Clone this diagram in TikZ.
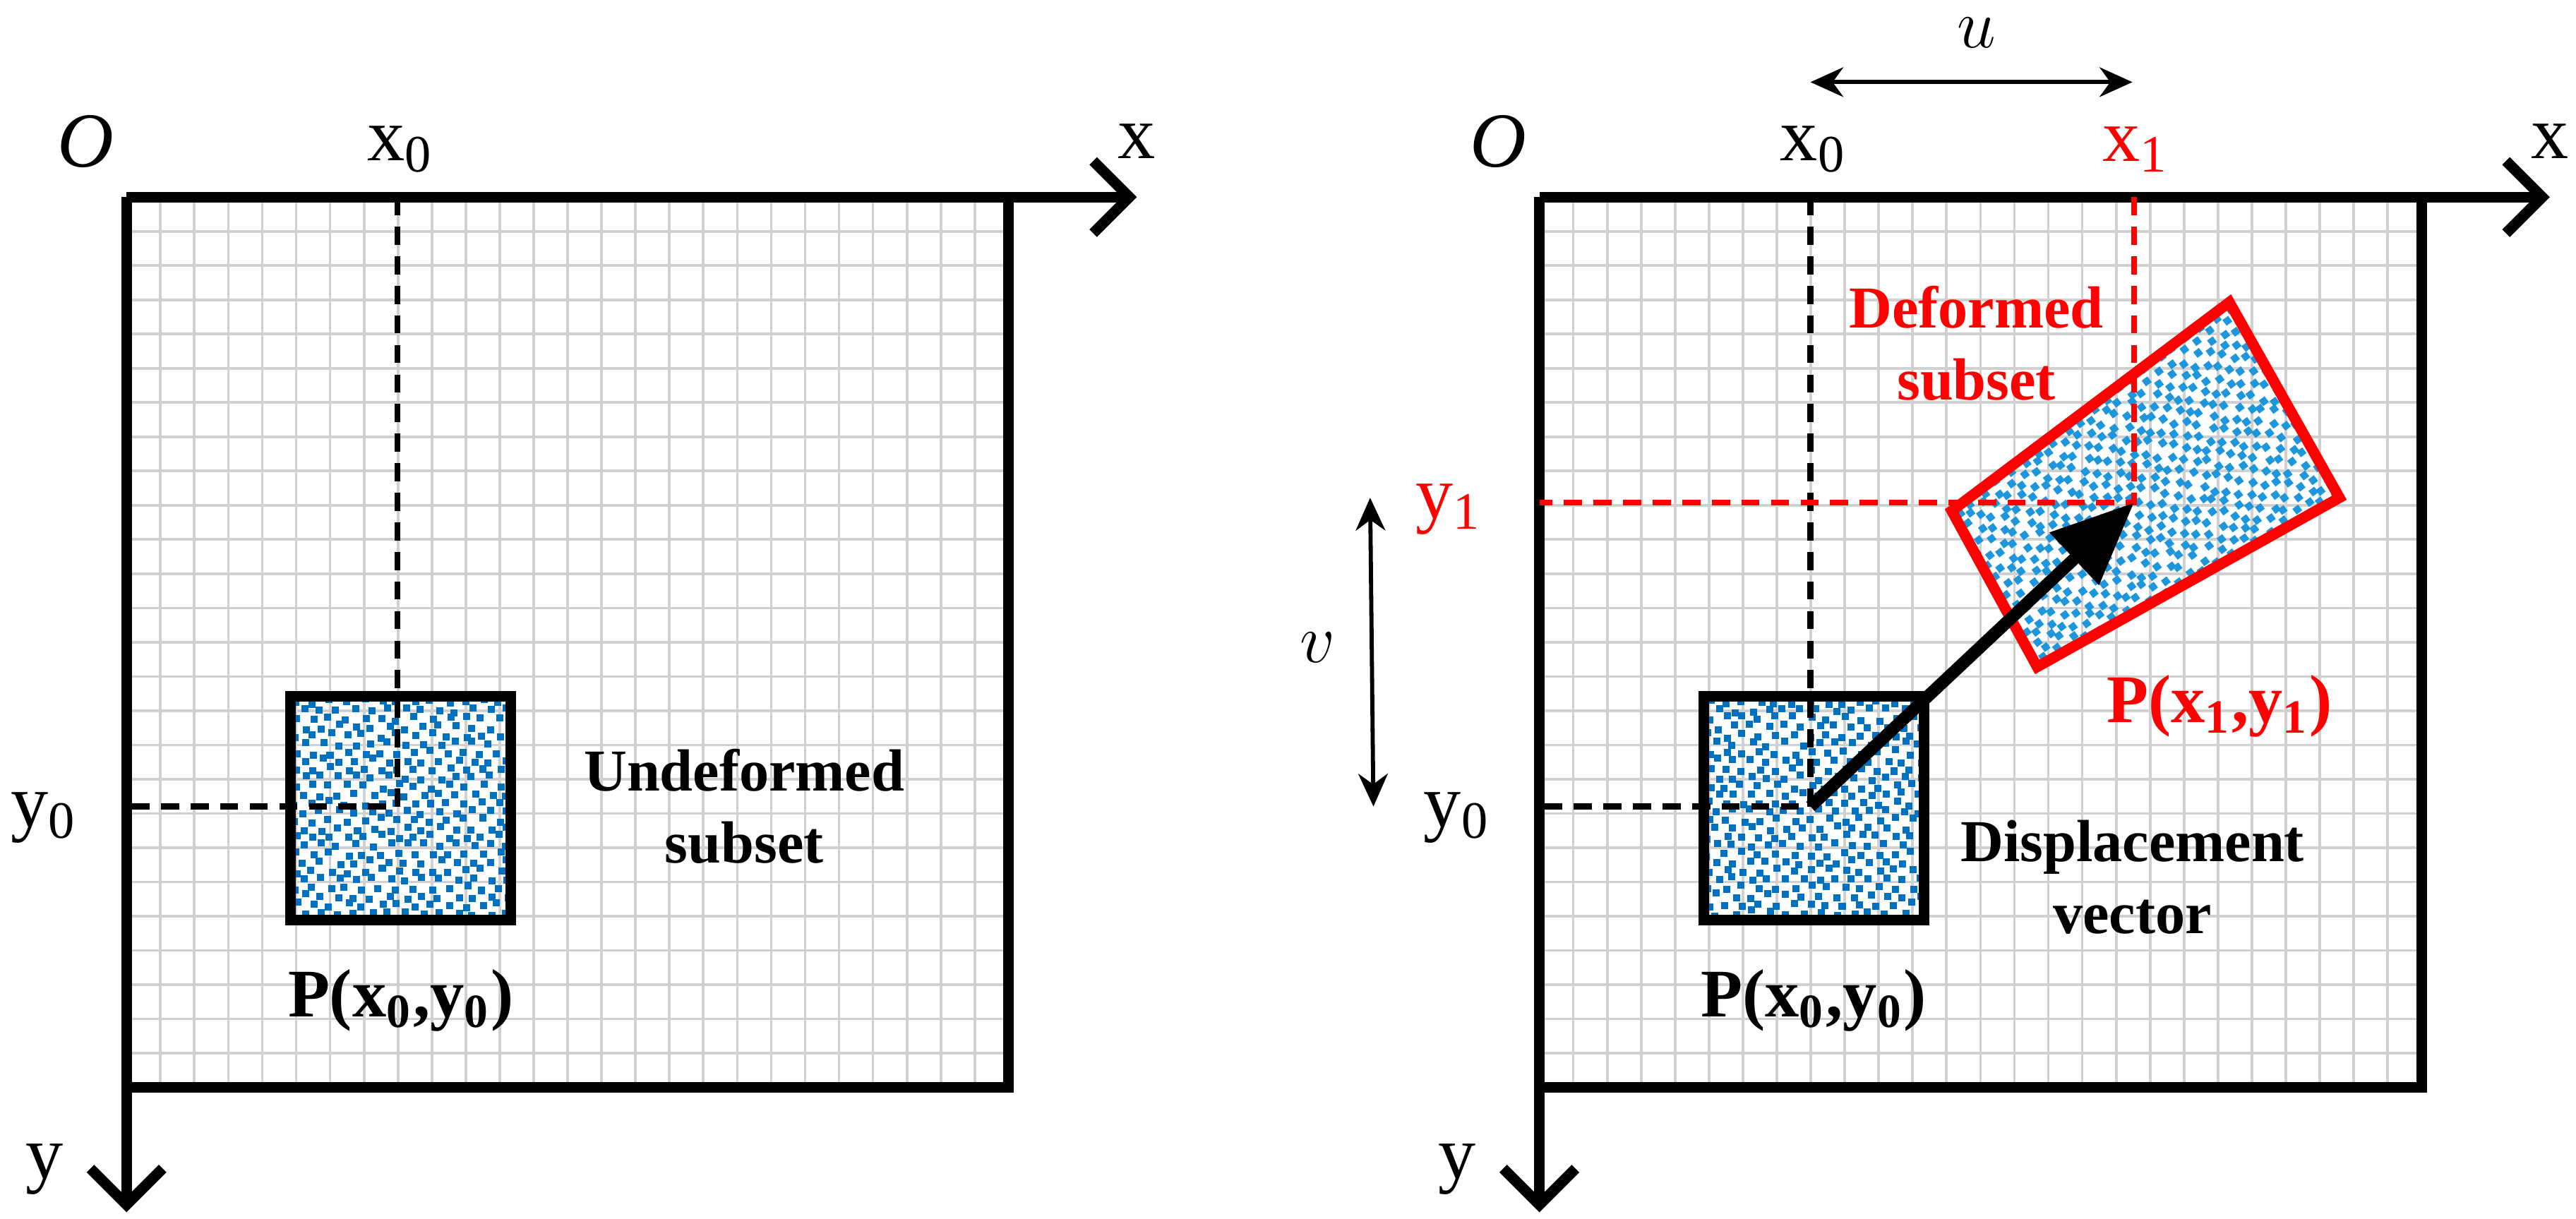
\documentclass[tikz,border=0pt]{standalone}
\usepackage{fontspec}
\setmainfont{Liberation Serif}
\usetikzlibrary{arrows.meta}
\definecolor{gridgray}{HTML}{D0D0D0}
\definecolor{dotblue}{HTML}{0070C0}
\definecolor{dotlight}{HTML}{1E96DC}
\newcommand\myspeckle[5]{%
  \foreach \i in {0,...,#3}{\foreach \j in {0,...,#4}{%
    \pgfmathsetmacro\ddx{#1+\i*10.3+1.8*rand}%
    \pgfmathsetmacro\ddy{#2+\j*10.3+1.8*rand}%
    \fill[#5] (\ddx,\ddy) rectangle ++(4.3,4.3);
    \pgfmathsetmacro\ddx{#1+\i*10.3+5.1+1.8*rand}%
    \pgfmathsetmacro\ddy{#2+\j*10.3+5.1+1.8*rand}%
    \fill[#5] (\ddx,\ddy) rectangle ++(4.3,4.3);}}}
\begin{document}
\begin{tikzpicture}[x=0.1mm,y=-0.1mm,
  lab/.style={font=\fontsize{13}{15}\selectfont, inner sep=0pt},
  blab/.style={font=\bfseries\fontsize{11.8}{14}\selectfont, inner sep=0pt},
  txt/.style={font=\bfseries\fontsize{10.3}{12.5}\selectfont, align=center, inner sep=0pt},
  frame/.style={line width=0.65mm},
  axis/.style={line width=0.65mm, -{Straight Barb[length=2.2mm,width=4.4mm,line width=0.65mm]}},
  dsh/.style={line width=0.36mm, dash pattern=on 1.1mm off 0.7mm},
  dim/.style={line width=0.25mm, {Stealth[length=2mm,width=1.8mm]}-{Stealth[length=2mm,width=1.8mm]}}]
\useasboundingbox (0,0) rectangle (1568,742);
\pgfmathsetseed{7}
% ---------- panels ----------
\foreach \s/\p in {0/L,860/R}{
\begin{scope}[xshift=\s*0.1mm]
  \begin{scope}[shift={(77,120)}]
    \draw[gridgray,line width=0.16mm,xstep=2.0654mm,ystep=2.0846mm] (0,0) grid (537,542);
  \end{scope}
  \myspeckle{178}{425}{12}{12}{dotblue}
  \coordinate (O\p) at (77,120);
  \coordinate (X\p) at (692,120);
  \coordinate (Y\p) at (77,738);
  \coordinate (c0\p) at (242,491);
  \coordinate (t0\p) at (242,120);
  \coordinate (l0\p) at (77,491);
  \draw[dsh] (t0\p) -- (c0\p) -- (l0\p);
  \draw[frame] (177,424) rectangle (311,560);
  \draw[frame] (614,120) -- (614,662) -- (77,662);
  \draw[axis] (O\p) -- (X\p);
  \draw[axis] (O\p) -- (Y\p);
  \node[lab,font=\itshape\fontsize{13.5}{15}\selectfont] (o\p) at (52,86) {O};
  \node[lab] (xl\p) at (692,86) {x};
  \node[lab] (yl\p) at (27,712) {y};
  \node[lab] (x0\p) at (244,91) {x\textsubscript{0}};
  \node[lab] (y0\p) at (27,498) {y\textsubscript{0}};
  \node[blab] (p0\p) at (244,609) {P(x\textsubscript{0},y\textsubscript{0})};
\end{scope}}
\node[txt] (und) at (453,491) {Undeformed\\subset};
% ---------- deformed subset ----------
\coordinate (r1) at (1188,311);
\coordinate (r2) at (1357,184);
\coordinate (r3) at (1424,303);
\coordinate (r4) at (1240,406);
\begin{scope}
  \clip (r1) -- (r2) -- (r3) -- (r4) -- cycle;
  \begin{scope}[shift={(1188,311)},rotate=37]
    \myspeckle{-10}{-30}{23}{17}{dotlight}
  \end{scope}
\end{scope}
\coordinate (x1t) at (1299,120);
\coordinate (c1) at (1299,306);
\coordinate (y1l) at (937,306);
\draw[dsh,red] (x1t) -- (c1) -- (y1l);
\draw[red,line width=0.65mm,line join=miter] (r1) -- (r2) -- (r3) -- (r4) -- cycle;
\draw[line width=0.75mm,-{Triangle[length=5mm,width=4.2mm]}] (c0R) -- (c1);
\node[lab,red] (x1) at (1300,91) {x\textsubscript{1}};
\node[lab,red] (y1) at (882,310) {y\textsubscript{1}};
\node[blab,red] (p1) at (1351,430) {P(x\textsubscript{1},y\textsubscript{1})};
\node[txt,red] (def) at (1203,209) {Deformed\\subset};
\node[txt] (disp) at (1298,534) {Displacement\\vector};
% ---------- u, v ----------
\coordinate (ua) at (1102,50);
\coordinate (ub) at (1298,50);
\draw[dim] (ua) -- (ub);
\node[lab] (u) at (1203,20) {$u$};
\coordinate (va) at (834,303);
\coordinate (vb) at (836,491);
\draw[dim] (va) -- (vb);
\node[lab] (v) at (802,394) {$v$};
\end{tikzpicture}
\end{document}
